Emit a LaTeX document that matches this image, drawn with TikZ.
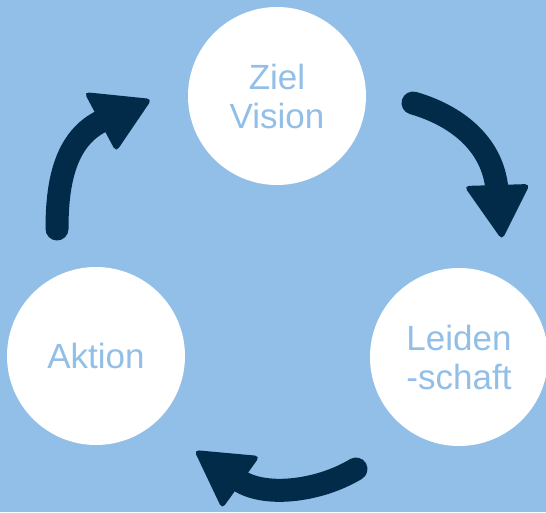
\documentclass[tikz,border=0pt]{standalone}
\usepackage{fontspec}
\setmainfont{Liberation Sans}
\definecolor{skyblue}{HTML}{92BFE8}
\definecolor{navy}{HTML}{022B4A}
\begin{document}
\begin{tikzpicture}[x=1pt,y=-1pt,
  stage/.style={circle,fill=white,inner sep=0pt,minimum size=178pt,
    text=skyblue,align=center,font=\fontsize{35}{39}\selectfont},
  shaft/.style={draw=navy,line width=23pt,line cap=round},
  head/.style={fill=navy,rounded corners=5pt}]
  % canvas
  \fill[skyblue] (0,0) rectangle (546,512);
  \useasboundingbox (0,0) rectangle (546,512);

  % the three stages
  \node[stage] (ziel)   at (277,96)  {Ziel\\Vision};
  \node[stage] (leiden) at (459,357) {Leiden\\-schaft};
  \node[stage] (aktion) at (96,356)  {Aktion};

  % arrow from Ziel to Leidenschaft
  \coordinate (r0) at (413,103);
  \coordinate (r1) at (497,190);
  \draw[shaft] (r0) .. controls (455,115) and (493,143) .. (r1);
  \fill[head] (464,186) -- (530,184) -- (502,240) -- cycle;

  % arrow from Leidenschaft to Aktion
  \coordinate (b0) at (356,469);
  \coordinate (b1) at (237,479);
  \draw[shaft] (b0) .. controls (318,492) and (262,498) .. (b1);
  \fill[head] (260,456) -- (222,509) -- (194,450) -- cycle;

  % arrow from Aktion to Ziel
  \coordinate (l0) at (57,229);
  \coordinate (l1) at (104,120);
  \draw[shaft] (l0) .. controls (57,185) and (64,138) .. (l1);
  \fill[head] (84,92) -- (152,99) -- (116,152) -- cycle;
\end{tikzpicture}
\end{document}
